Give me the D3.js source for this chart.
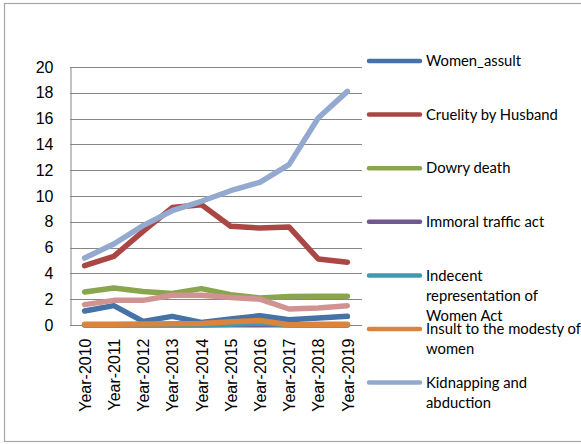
<!DOCTYPE html>
<html>
<head>
<meta charset="utf-8">
<script src="https://cdn.jsdelivr.net/npm/d3@7"></script>
<style>
  body { margin: 0; background: white; }
  svg { display: block; }
</style>
</head>
<body>
<script>
// data
var years = ["Year-2010","Year-2011","Year-2012","Year-2013","Year-2014","Year-2015","Year-2016","Year-2017","Year-2018","Year-2019"];
var yTicks = [0, 2, 4, 6, 8, 10, 12, 14, 16, 18, 20];

var womenAssult   = [1.08, 1.5, 0.28, 0.67, 0.2, 0.46, 0.72, 0.41, 0.54, 0.67];
var cruelity      = [4.6, 5.32, 7.26, 9.1, 9.33, 7.65, 7.52, 7.6, 5.12, 4.86];
var dowryDeath    = [2.56, 2.87, 2.6, 2.45, 2.82, 2.35, 2.09, 2.2, 2.22, 2.22];
var immoral       = [0.02, 0.02, 0.02, 0.02, 0.02, 0.02, 0.02, 0.02, 0.02, 0.02];
var indecent      = [0, 0, 0, 0, 0, 0.05, 0.15, 0, 0, 0];
var insult        = [0.05, 0.05, 0.07, 0.1, 0.12, 0.25, 0.35, 0.02, 0.05, 0.05];
var kidnapping    = [5.19, 6.28, 7.7, 8.86, 9.59, 10.41, 11.06, 12.43, 16.05, 18.11];
var otherCrimes   = [1.58, 1.91, 1.91, 2.3, 2.3, 2.14, 2.0, 1.24, 1.32, 1.5];

var seriesNames = ["Women_assult", "Cruelity by Husband", "Dowry death", "Immoral traffic act",
                   "Indecent representation of Women Act", "Insult to the modesty of women",
                   "Kidnapping and abduction", "Others"];
var seriesValues = [womenAssult, cruelity, dowryDeath, immoral, indecent, insult, kidnapping, otherCrimes];
var colors = ["#4572a7", "#aa4643", "#89a54e", "#71588f", "#4198af", "#db843d", "#93a9cf", "#d19392"];

var screen = {width: 581, height: 444};
var plot = {left: 70, right: 362, top: 67, bottom: 325};

var svg = d3.select("body")
            .append("svg")
            .attr("width", screen.width)
            .attr("height", screen.height);

// chart frame
svg.append("rect")
   .attr("x", 4.5)
   .attr("y", 3.5)
   .attr("width", 600)
   .attr("height", 438)
   .attr("fill", "white")
   .attr("stroke", "#a6a6a6")
   .attr("stroke-width", 1.2);

var x = d3.scalePoint()
          .domain(years)
          .range([plot.left, plot.right])
          .padding(0.5);

var y = d3.scaleLinear()
          .domain([0, 20])
          .range([plot.bottom, plot.top]);

// gridlines
svg.append("g")
   .selectAll("line")
   .data(yTicks)
   .enter()
   .append("line")
   .attr("x1", plot.left)
   .attr("x2", plot.right)
   .attr("y1", function(d) { return Math.round(y(d)) + 0.5; })
   .attr("y2", function(d) { return Math.round(y(d)) + 0.5; })
   .attr("stroke", "#868686")
   .attr("stroke-width", 1);

// y axis
var yAxis = d3.axisLeft(y)
              .tickValues(yTicks)
              .tickSize(0)
              .tickPadding(17);

var yG = svg.append("g")
            .attr("transform", "translate(" + (plot.left + 0.5) + ",0)")
            .call(yAxis);
yG.select(".domain").attr("stroke", "#868686");
yG.selectAll("text")
  .attr("font-family", "'Liberation Sans', Arial, sans-serif")
  .attr("font-size", 16)
  .attr("fill", "black");

// x axis
var xAxis = d3.axisBottom(x).tickSize(0).tickPadding(0);
var xG = svg.append("g")
            .attr("transform", "translate(0," + (plot.bottom + 0.5) + ")")
            .call(xAxis);
xG.select(".domain").remove();
xG.selectAll("text")
  .attr("font-family", "'Liberation Sans', Arial, sans-serif")
  .attr("font-size", 16)
  .attr("fill", "black")
  .attr("text-anchor", "end")
  .attr("dy", "0.35em")
  .attr("transform", "translate(0,13) rotate(-90)")
  .attr("x", 0)
  .attr("y", 0);

// lines
var line = d3.line()
             .x(function(d, i) { return x(years[i]); })
             .y(function(d) { return y(d); });

svg.append("g")
   .selectAll("path")
   .data(seriesValues)
   .enter()
   .append("path")
   .attr("d", line)
   .attr("fill", "none")
   .attr("stroke", function(d, i) { return colors[i]; })
   .attr("stroke-width", 5.5)
   .attr("stroke-linejoin", "round")
   .attr("stroke-linecap", "round");

// legend (only the first seven fit in the frame)
var legendLines = [["Women_assult"], ["Cruelity by Husband"], ["Dowry death"], ["Immoral traffic act"],
                   ["Indecent", "representation of", "Women Act"], ["Insult to the modesty of", "women"],
                   ["Kidnapping and", "abduction"]];

var legend = svg.append("g")
                .selectAll("g")
                .data(legendLines)
                .enter()
                .append("g")
                .attr("transform", function(d, i) { return "translate(367," + (61 + i * 53.6) + ")"; });

legend.append("line")
      .attr("x1", 2)
      .attr("x2", 53)
      .attr("stroke", function(d, i) { return colors[i]; })
      .attr("stroke-width", 4.5)
      .attr("stroke-linecap", "round");

legend.append("text")
      .attr("x", 59)
      .attr("font-family", "Lato, 'Open Sans', sans-serif")
      .attr("font-size", 14.8)
      .attr("fill", "black")
      .selectAll("tspan")
      .data(function(d) { return d; })
      .enter()
      .append("tspan")
      .attr("x", 59)
      .attr("y", function(d, i) { return i * 20; })
      .attr("dy", "0.35em")
      .text(function(d) { return d; });
</script>
</body>
</html>
